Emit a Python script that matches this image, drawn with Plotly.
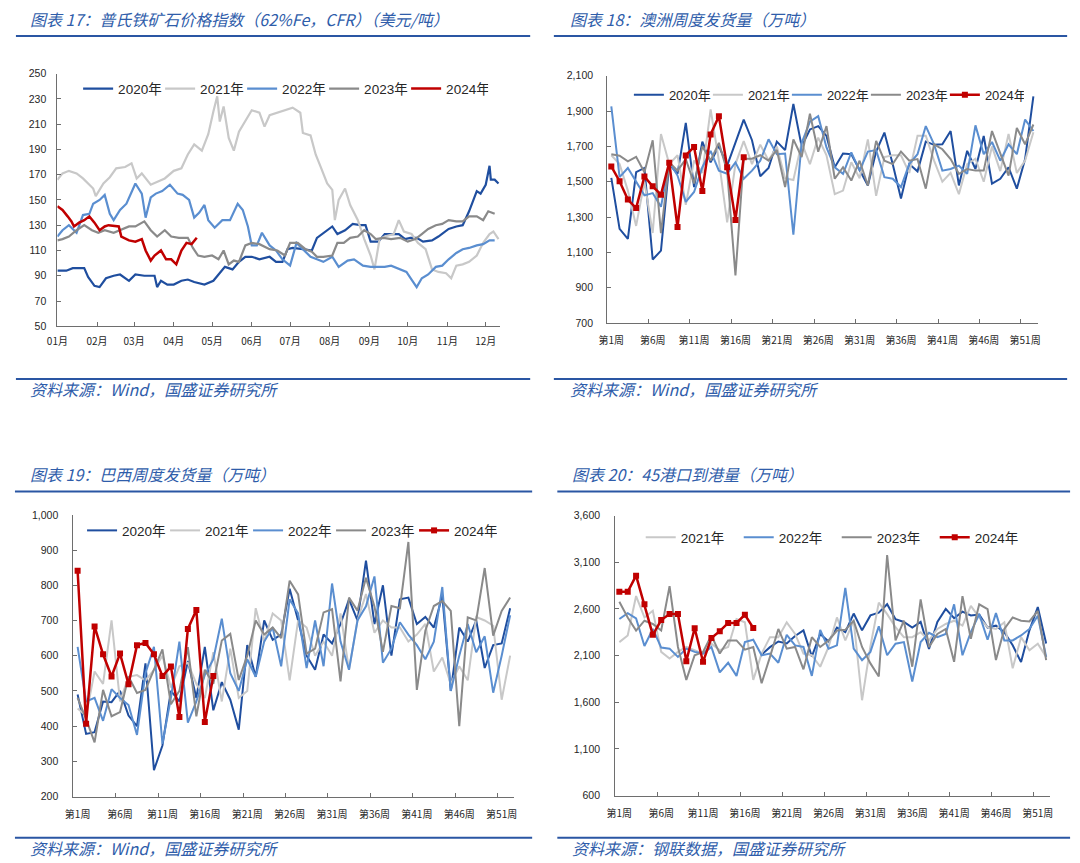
import plotly.graph_objects as go

W, H = 1080, 863

# ---------------- Panel 1: Platts 62% Fe CFR (USD/t), x = day of year ----------------
p1_2020_day = [0,7,12,21,24,29,33,38,44,49,56,61,68,76,78,81,86,91,97,102,107,115,122,126,131,137,142,147,152,158,166,171,176,180,184,192,199,203,208,215,219,225,231,237,241,245,251,256,267,272,276,281,286,293,298,306,312,317,322,328,331,335,338,339,342,345]
p1_2020_val = [94,94,96,96,89,82,81,88,90,91,86,91,90,90,81,86,83,83,86,87,85,83,86,91,97,95,101,105,105,103,105,101,101,111,112,111,110,120,124,129,123,126,131,130,130,117,117,123,123,119,120,120,117,118,121,127,129,130,141,157,155,162,177,166,166,163]
p1_2021_day = [0,4,9,15,20,28,30,36,41,46,53,58,62,66,73,78,84,91,97,102,107,113,118,122,125,127,130,134,138,142,147,152,158,162,166,172,179,184,190,192,198,202,206,211,215,217,220,225,229,235,240,245,248,252,256,263,267,271,277,282,288,293,298,304,308,312,317,322,328,333,338,341,345]
p1_2021_val = [166,171,173,171,167,159,153,163,168,175,176,179,167,171,162,164,167,173,175,186,194,189,202,220,232,212,224,199,189,204,212,221,219,208,217,219,221,223,219,203,201,186,176,163,158,134,150,159,146,134,119,106,95,119,121,123,134,125,123,116,111,95,93,92,88,98,99,101,106,116,123,125,119]
p1_2022_day = [0,4,9,15,20,25,28,33,37,41,44,49,54,61,66,69,73,77,82,88,94,98,103,107,111,115,118,123,129,135,141,145,149,152,156,160,166,171,176,182,187,192,198,203,208,215,220,227,232,239,245,251,256,261,268,273,277,281,285,290,296,301,306,312,317,322,328,333,338,342]
p1_2022_val = [121,126,130,124,138,139,147,150,154,139,134,142,147,163,155,136,152,155,157,162,155,154,150,136,140,146,134,128,134,134,147,142,129,114,114,124,114,110,103,98,116,111,105,103,101,105,97,102,103,98,97,97,97,98,95,93,87,81,88,91,97,98,103,108,111,112,114,115,118,118]
p1_2023_day = [0,4,9,15,21,27,32,37,44,49,56,61,68,73,78,84,89,95,102,106,110,115,121,126,130,134,138,142,147,152,158,166,172,178,182,188,194,199,203,208,215,219,224,229,235,240,245,249,255,261,268,274,280,285,290,296,301,306,312,317,322,328,333,337,342]
p1_2023_val = [118,119,121,126,130,126,124,126,124,126,129,129,133,126,121,126,121,120,120,112,106,105,106,103,110,99,102,101,114,116,115,111,110,106,116,116,111,109,105,105,106,116,116,120,121,126,123,119,120,119,120,117,119,123,127,130,131,134,133,133,137,137,134,141,139]
p1_2024_day = [0,4,8,11,13,17,21,25,29,33,37,40,48,50,56,61,66,69,73,76,81,85,89,93,97,101,105,109]
p1_2024_val = [145,142,137,133,129,132,134,137,132,126,129,130,129,121,118,117,119,110,102,106,110,103,103,99,110,116,115,120]

month_tick_days = [0,31,60,91,121,152,182,213,244,274,305,335]
month_tick_text = ["01月","02月","03月","04月","05月","06月","07月","08月","09月","10月","11月","12月"]

# ---------------- Weekly panels ----------------
weeks = list(range(1, 53))
weeks_2024 = list(range(1, 18))
week_tick_vals = list(range(1, 53, 5))
week_tick_text = ["第%d周" % w for w in week_tick_vals]
week_boundaries = [w + 4.5 for w in week_tick_vals[:-1]]

# Panel 2: Australia weekly shipments (10k t)
aus_2020 = [1522,1233,1177,1554,1578,1060,1110,1600,1545,1833,1470,1727,1610,1703,1591,1720,1852,1735,1531,1578,1727,1679,1940,1700,1796,1815,1759,1582,1660,1656,1563,1479,1671,1778,1600,1405,1600,1559,1727,1709,1712,1787,1479,1675,1572,1759,1489,1517,1582,1461,1628,1983]
aus_2021 = [1650,1600,1450,1250,1500,1210,1770,1600,1650,1370,1620,1550,1910,1620,1270,1600,1730,1600,1710,1620,1700,1520,1510,1720,1600,1750,1650,1430,1450,1610,1520,1740,1420,1640,1650,1650,1550,1760,1760,1620,1500,1550,1430,1600,1630,1500,1700,1560,1770,1550,1620,1780]
aus_2022 = [1927,1526,1578,1498,1423,1436,1358,1610,1535,1386,1442,1582,1675,1563,1545,1610,1517,1563,1619,1740,1656,1660,1200,1720,1840,1871,1694,1582,1545,1666,1563,1671,1679,1526,1517,1470,1600,1656,1815,1712,1563,1572,1591,1545,1819,1656,1725,1619,1712,1656,1852,1787]
aus_2023 = [1656,1647,1615,1641,1554,1735,1209,1610,1563,1628,1490,1700,1620,1720,1560,970,1630,1630,1650,1620,1680,1470,1740,1640,1885,1670,1815,1517,1582,1507,1619,1479,1731,1619,1600,1671,1619,1628,1461,1712,1684,1628,1545,1572,1563,1563,1787,1656,1535,1805,1712,1824]
aus_2024 = [1587,1503,1399,1351,1530,1474,1427,1608,1244,1649,1697,1448,1768,1871,1582,1284,1638]

# Panel 3: Brazil weekly shipments (10k t)
bra_2020 = [490,378,383,470,468,500,430,400,578,275,345,500,470,585,480,625,445,525,475,390,630,540,700,645,660,790,700,600,560,660,635,690,760,700,870,690,800,600,760,765,690,710,680,770,500,680,640,700,565,630,635,735]
bra_2021 = [450,430,555,520,700,470,540,545,530,560,600,510,570,580,520,480,610,470,620,480,500,735,640,720,700,530,700,680,600,640,600,720,560,700,775,665,700,680,680,640,660,690,555,595,520,570,530,710,700,685,475,600]
bra_2022 = [625,470,480,415,505,480,460,375,550,625,350,480,640,410,470,545,590,705,550,500,590,540,640,680,570,760,720,565,700,570,805,640,560,700,740,825,580,620,695,660,630,590,640,795,500,600,690,610,655,495,600,715]
bra_2023 = [480,420,354,503,428,440,541,494,503,560,618,462,500,624,428,560,520,643,662,531,600,700,660,680,650,813,774,606,620,723,732,527,765,728,821,740,611,741,735,923,503,671,741,755,727,400,709,700,849,657,727,765]
bra_2024 = [841,407,683,604,541,606,519,630,636,604,542,569,426,676,730,412,542]

# Panel 4: arrivals at 45 ports (10k t)
port_2020_weeks = list(range(18, 53))
port_2020 = [2110,2190,2250,2230,2310,2370,2090,2330,2250,2400,2350,2550,2370,2530,2560,2650,2490,2460,2400,2460,2170,2460,2600,2500,2570,2530,2540,2400,2420,2350,2210,2030,2370,2620,2230]
port_2021 = [2244,2315,2737,2508,2579,2139,2068,2139,2192,2157,2121,2227,2157,2192,2491,2456,1839,2121,2297,2297,2456,2332,2121,2103,1980,2192,2508,2262,2473,1621,2200,2667,2544,2403,2297,2297,2350,2262,2385,2438,2473,2420,2632,2508,2403,2385,2456,1963,2297,2157,2227,2086]
port_2022 = [2491,2554,2498,2202,2385,2185,2174,2086,2174,2139,2121,2192,1920,2023,1882,2244,2269,2103,2121,2023,2322,2209,2192,1882,2375,2174,2209,2825,2174,2051,2139,2413,2103,2227,2244,1822,2244,2343,2297,2332,2649,2103,2350,2544,2269,2554,2262,2262,2315,2385,2526,2086]
port_2023 = [2677,2508,2368,2473,2438,2368,2843,2192,1839,2103,2139,2315,2121,2262,2262,2163,2192,1804,2086,2385,2174,2192,1952,2297,2192,2262,2368,2375,2473,2192,2016,1875,3177,2262,2473,1980,2702,2192,2332,2385,2033,2737,2280,2649,2596,2051,2385,2508,2473,2466,2579,2051]
port_2024 = [2783,2783,2956,2649,2322,2480,2544,2544,2040,2392,2033,2287,2361,2449,2449,2537,2396]

# ---------------- styling ----------------
C20, C21, C22, C23, C24 = "#1F4E9F", "#C8C8C8", "#5A8ED0", "#8A8A8A", "#C00000"
AX = "#6E6E6E"
TXT = "#262626"
BLUE_T = "#2F5DAA"
RULE = "#2A56A3"
NUMF = "Liberation Sans, Arial, Noto Sans CJK SC, sans-serif"
CJKF = "Noto Sans CJK SC, sans-serif"


def px(x):
    return x / W


def py(y):
    return 1 - y / H


fig = go.Figure()


def add_line(x, y, name, color, ax, legend, width=2.0, markers=False, show=True):
    kw = dict(x=x, y=y, name=name, xaxis="x" + ax, yaxis="y" + ax, legend=legend,
              showlegend=show, line=dict(color=color, width=width), hoverinfo="skip")
    if markers:
        kw["mode"] = "lines+markers"
        kw["marker"] = dict(symbol="square", size=6, color=color)
    else:
        kw["mode"] = "lines"
    fig.add_trace(go.Scatter(**kw))


# Panel 1
add_line(p1_2020_day, p1_2020_val, "2020年", C20, "", "legend", 2.2)
add_line(p1_2021_day, p1_2021_val, "2021年", C21, "", "legend", 2.2)
add_line(p1_2022_day, p1_2022_val, "2022年", C22, "", "legend", 2.2)
add_line(p1_2023_day, p1_2023_val, "2023年", C23, "", "legend", 2.2)
add_line(p1_2024_day, p1_2024_val, "2024年", C24, "", "legend", 2.5)

# Panel 2
add_line(weeks, aus_2020, "2020年", C20, "2", "legend2")
add_line(weeks, aus_2021, "2021年", C21, "2", "legend2")
add_line(weeks, aus_2022, "2022年", C22, "2", "legend2")
add_line(weeks, aus_2023, "2023年", C23, "2", "legend2")
add_line(weeks_2024, aus_2024, "2024年", C24, "2", "legend2", 2.5, True)

# Panel 3
add_line(weeks, bra_2020, "2020年", C20, "3", "legend3")
add_line(weeks, bra_2021, "2021年", C21, "3", "legend3")
add_line(weeks, bra_2022, "2022年", C22, "3", "legend3")
add_line(weeks, bra_2023, "2023年", C23, "3", "legend3")
add_line(weeks_2024, bra_2024, "2024年", C24, "3", "legend3", 2.5, True)

# Panel 4 (2020 drawn but not in legend)
add_line(port_2020_weeks, port_2020, "2020年", C20, "4", "legend4", show=False)
add_line(weeks, port_2021, "2021年", C21, "4", "legend4")
add_line(weeks, port_2022, "2022年", C22, "4", "legend4")
add_line(weeks, port_2023, "2023年", C23, "4", "legend4")
add_line(weeks_2024, port_2024, "2024年", C24, "4", "legend4", 2.5, True)


def yax(domain, anchor, rng, dtick, fmt, standoff):
    return dict(domain=domain, anchor=anchor, range=rng, tick0=rng[0], dtick=dtick,
                tickformat=fmt, showline=True, linecolor=AX, linewidth=1,
                ticks="inside", ticklen=4, tickcolor=AX, showgrid=False, zeroline=False,
                tickfont=dict(family=NUMF, size=10.5, color=TXT),
                ticklabelstandoff=standoff)


def xax_week(domain, anchor):
    return dict(domain=domain, anchor=anchor, range=[0.5, 52.5], tickmode="array",
                tickvals=week_tick_vals, ticktext=week_tick_text, ticks="",
                showline=True, linecolor=AX, linewidth=1, showgrid=False, zeroline=False,
                tickfont=dict(family=CJKF, size=10, color=TXT), ticklabelstandoff=8,
                minor=dict(tickmode="array", tickvals=week_boundaries, ticks="inside",
                           ticklen=4, tickcolor=AX, showgrid=False))


d1x = [px(47), px(495.2)]; d1y = [py(324.8), py(68.5)]
d2x = [px(604), px(1040)]; d2y = [py(321.6), py(70.7)]
d3x = [px(63.2), px(510)]; d3y = [py(801.7), py(516)]
d4x = [px(612.1), px(1053)]; d4y = [py(800.7), py(516.7)]

layout = dict(
    width=W, height=H, margin=dict(l=0, r=0, t=0, b=0),
    paper_bgcolor="white", plot_bgcolor="white",
    xaxis=dict(domain=d1x, anchor="y", range=[0, 346], tickmode="array",
               tickvals=month_tick_days, ticktext=month_tick_text, ticks="inside", ticklen=4,
               tickcolor=AX, showline=True, linecolor=AX, linewidth=1, showgrid=False,
               zeroline=False, tickfont=dict(family=CJKF, size=10, color=TXT),
               ticklabelstandoff=6),
    yaxis=yax(d1y, "x", [50, 250], 20, "d", 8),
    xaxis2=xax_week(d2x, "y2"),
    yaxis2=yax(d2y, "x2", [700, 2100], 200, ",d", 11),
    xaxis3=xax_week(d3x, "y3"),
    yaxis3=yax(d3y, "x3", [200, 1000], 100, ",d", 12),
    xaxis4=xax_week(d4x, "y4"),
    yaxis4=yax(d4y, "x4", [600, 3600], 500, ",d", 12),
)


def leg(x_px, y_px, entry, fsize=13.5):
    return dict(orientation="h", x=px(x_px), y=py(y_px), xanchor="left", yanchor="middle",
                bgcolor="rgba(0,0,0,0)", font=dict(family=NUMF, size=fsize, color=TXT),
                entrywidth=entry, entrywidthmode="pixels", itemwidth=30,
                traceorder="normal", tracegroupgap=0)


layout["legend"] = leg(68, 84, 37)
layout["legend2"] = leg(626, 90, 34, 13)
layout["legend3"] = leg(72, 532, 38)
layout["legend4"] = leg(638, 539, 53)
fig.update_layout(**layout)

# Titles, sources and rules
titles = [
    (17, 13, "图表 17：普氏铁矿石价格指数（62%Fe，CFR）（美元/吨）"),
    (564, 13, "图表 18：澳洲周度发货量（万吨）"),
    (17, 475, "图表 19：巴西周度发货量（万吨）"),
    (566.5, 475, "图表 20：45港口到港量（万吨）"),
]
sources = [
    (17, 388.5, "资料来源：Wind，国盛证券研究所"),
    (564, 388.5, "资料来源：Wind，国盛证券研究所"),
    (17, 853.5, "资料来源：Wind，国盛证券研究所"),
    (566.5, 853.5, "资料来源：钢联数据，国盛证券研究所"),
]
for (x, y, t) in titles + sources:
    fig.add_annotation(x=px(x), y=py(y), xref="paper", yref="paper", text=t,
                       showarrow=False, xanchor="left", yanchor="middle",
                       font=dict(family=CJKF, size=16, color=BLUE_T, style="italic"))

rules = [
    (5, 526, 30.5), (550, 1070, 30.5), (5, 526, 378.3), (550, 1070, 378.3),
    (4, 528, 492.3), (553.5, 1073, 492.3), (4, 528, 843.5), (553.5, 1073, 843.5),
]
for (x0, x1, y) in rules:
    fig.add_shape(type="line", xref="paper", yref="paper", x0=px(x0), x1=px(x1),
                  y0=py(y), y1=py(y), line=dict(color=RULE, width=2))

fig.write_html("out.html", config={"displayModeBar": False},
               post_script="document.body.style.margin='0';document.body.style.overflow='hidden';")
